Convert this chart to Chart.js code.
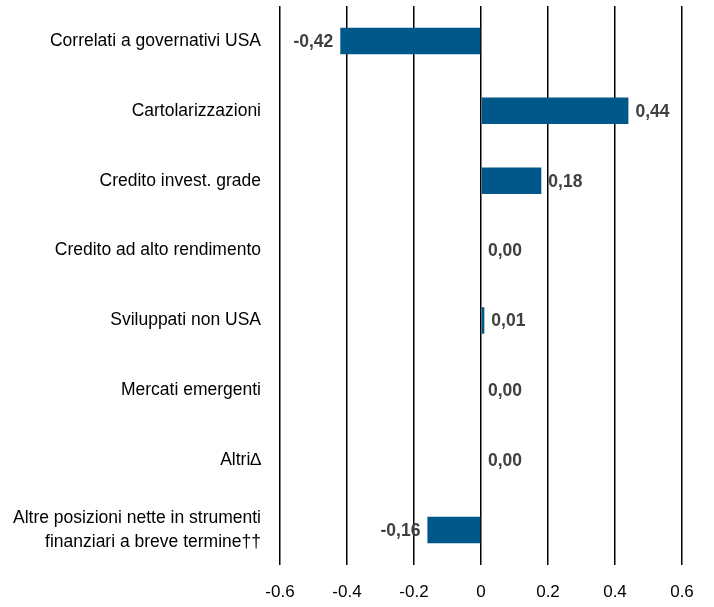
<!DOCTYPE html>
<html>
<head>
<meta charset="utf-8">
<script src="https://cdn.jsdelivr.net/npm/chart.js@4"></script>
<style>
  html, body { margin: 0; padding: 0; background: #fff; }
  #wrap { width: 714px; height: 607px; }
</style>
</head>
<body>
<div id="wrap"><canvas id="barChart" width="714" height="607"></canvas></div>
<script>
const categories = [
    'Correlati a governativi USA',
    'Cartolarizzazioni',
    'Credito invest. grade',
    'Credito ad alto rendimento',
    'Sviluppati non USA',
    'Mercati emergenti',
    'Altri\u2206',
    ['Altre posizioni nette in strumenti', 'finanziari a breve termine\u2020\u2020']
];
const values = [-0.42, 0.44, 0.18, 0.00, 0.01, 0.00, 0.00, -0.16];
const tickValues = [-0.6, -0.4, -0.2, 0, 0.2, 0.4, 0.6];

const FONT = "'Liberation Sans', Arial, sans-serif";

// etichette valori accanto alle barre
const valueLabels = {
    id: 'valueLabels',
    afterDatasetsDraw(chart) {
        const { ctx } = chart;
        const meta = chart.getDatasetMeta(0);
        ctx.save();
        ctx.font = "bold 17.5px " + FONT;
        ctx.fillStyle = '#404040';
        ctx.textBaseline = 'middle';
        meta.data.forEach((bar, i) => {
            const v = values[i];
            const txt = v.toFixed(2).replace('.', ',');
            if (v < 0) {
                ctx.textAlign = 'right';
                ctx.fillText(txt, bar.x - 7, bar.y + 1);
            } else {
                ctx.textAlign = 'left';
                ctx.fillText(txt, bar.x + 7, bar.y + 1);
            }
        });
        ctx.restore();
    }
};

new Chart(document.getElementById('barChart').getContext('2d'), {
    type: 'bar',
    data: {
        labels: categories,
        datasets: [{
            data: values,
            backgroundColor: '#00578a',
            borderWidth: 0,
            barPercentage: 0.38,
            categoryPercentage: 1
        }]
    },
    options: {
        indexAxis: 'y',
        responsive: false,
        animation: false,
        layout: { padding: { top: 6, right: 32, bottom: 0, left: 0 } },
        plugins: {
            legend: { display: false },
            tooltip: { enabled: false }
        },
        scales: {
            x: {
                min: -0.6,
                max: 0.6,
                afterBuildTicks(axis) {
                    axis.ticks = tickValues.map(v => ({ value: v }));
                },
                afterFit(axis) {
                    axis.height = 42;
                },
                grid: {
                    color: '#000',
                    lineWidth: 1.5,
                    drawTicks: false
                },
                border: { display: false },
                ticks: {
                    color: '#000',
                    padding: 17,
                    font: { family: FONT, size: 17 },
                    callback: v => String(Math.round(v * 10) / 10)
                }
            },
            y: {
                grid: { display: false },
                border: { display: false },
                afterFit(axis) {
                    axis.paddingTop = 0;
                    axis.paddingBottom = 0;
                    axis.width = 280;
                },
                ticks: {
                    color: '#000',
                    padding: 11,
                    font: { family: FONT, size: 17.5, lineHeight: 1.35 }
                }
            }
        }
    },
    plugins: [valueLabels]
});
</script>
</body>
</html>
